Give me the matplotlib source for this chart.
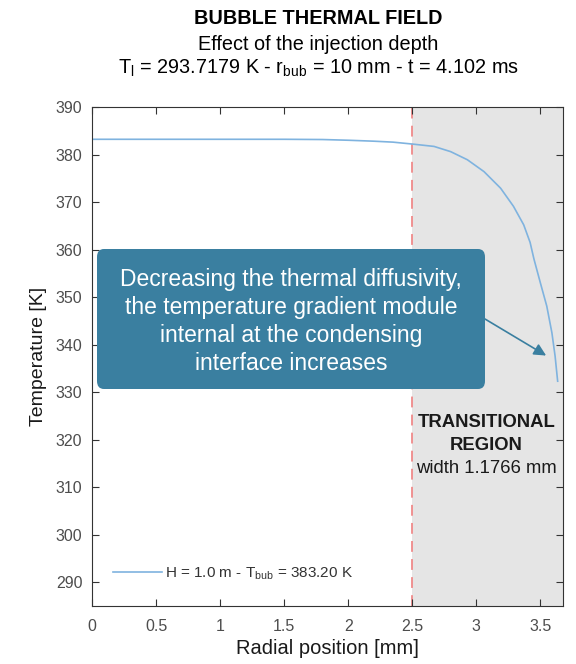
import numpy as np
import matplotlib
matplotlib.use("Agg")
import matplotlib.pyplot as plt
from matplotlib.patches import FancyBboxPatch

plt.rcParams['font.family'] = ['Liberation Sans', 'DejaVu Sans']

# radial temperature profile inside the bubble
r_mm = [0.0, 0.5, 1.0, 1.5, 1.8, 2.0, 2.2, 2.35, 2.5, 2.67, 2.8, 2.93, 3.06,
        3.19, 3.29, 3.37, 3.42, 3.45, 3.5, 3.55, 3.59, 3.615, 3.635]
T_K = [383.2, 383.2, 383.2, 383.2, 383.15, 383.0, 382.8, 382.6, 382.2, 381.7,
       380.6, 378.9, 376.4, 372.9, 369.1, 365.2, 361.5, 358.0, 353.0, 348.1,
       342.5, 337.6, 332.3]

r_start = 2.5          # start of transitional region [mm]
r_width = 1.1766       # width of transitional region [mm]
xticks = [0, 0.5, 1, 1.5, 2, 2.5, 3, 3.5]
yticks = [290, 300, 310, 320, 330, 340, 350, 360, 370, 380, 390]

fig = plt.figure(figsize=(5.76, 6.64), dpi=100)
ax = fig.add_axes([0.1597, 0.0873, 0.8177, 0.7516])

ax.axvspan(r_start, r_start + r_width, color='#e5e5e5', zorder=0, lw=0)
ax.axvline(r_start, color='#f08a8a', ls=(0, (6, 4)), lw=1.3, zorder=1)
ax.plot(r_mm, T_K, color='#7fb3df', lw=1.2, zorder=2,
        label=r'H = 1.0 m - T$_{\mathregular{bub}}$ = 383.20 K')

ax.set_xlim(0, r_start + r_width)
ax.set_ylim(285, 390)
ax.set_xticks(xticks)
ax.set_xticklabels([f'{v:g}' for v in xticks])
ax.set_yticks(yticks)
ax.tick_params(direction='in', top=True, right=True, length=5, width=0.8,
               color='#333333', labelsize=11.5, labelcolor='#4d4d4d')
ax.tick_params(axis='x', pad=9)
ax.tick_params(axis='y', pad=7)
for s in ax.spines.values():
    s.set_color('#333333')
    s.set_linewidth(0.8)

ax.set_xlabel('Radial position [mm]', fontsize=14.5, color='#1a1a1a', labelpad=4)
ax.set_ylabel('Temperature [K]', fontsize=14, color='#1a1a1a', labelpad=6)

leg = ax.legend(loc='lower left', bbox_to_anchor=(0.015, 0.02), frameon=False,
                fontsize=11, handlelength=3.2, handletextpad=0.2)
for t in leg.get_texts():
    t.set_color('#333333')

xc = r_start + r_width / 2 - 0.01
ax.text(xc, 323.6, 'TRANSITIONAL', ha='center', va='center', fontsize=13.3,
        fontweight='bold', color='#1a1a1a')
ax.text(xc, 318.8, 'REGION', ha='center', va='center', fontsize=13.3,
        fontweight='bold', color='#1a1a1a')
ax.text(xc, 314.0, 'width 1.1766 mm', ha='center', va='center', fontsize=13.3,
        color='#1a1a1a')

# titles
fig.text(0.552, 0.972, 'BUBBLE THERMAL FIELD', ha='center', va='center',
         fontsize=14.3, fontweight='bold')
fig.text(0.552, 0.933, 'Effect of the injection depth', ha='center', va='center',
         fontsize=14.3)
fig.text(0.552, 0.897,
         r'T$_{\mathregular{l}}$ = 293.7179 K - r$_{\mathregular{bub}}$ = 10 mm - t = 4.102 ms',
         ha='center', va='center', fontsize=14.3)

# callout box with arrow
box_col = '#3a7fa0'
bx0, by0, bx1, by1 = 97 / 576, 1 - 389 / 664, 485 / 576, 1 - 249 / 664
box = FancyBboxPatch((bx0, by0), bx1 - bx0, by1 - by0,
                     boxstyle='round,pad=0,rounding_size=0.012',
                     transform=fig.transFigure, facecolor=box_col,
                     edgecolor='none', zorder=5)
fig.patches.append(box)
fig.text((bx0 + bx1) / 2, (by0 + by1) / 2 - 0.004,
         'Decreasing the thermal diffusivity,\nthe temperature gradient module\n'
         'internal at the condensing\ninterface increases',
         ha='center', va='center', fontsize=16.5, color='white',
         linespacing=1.27, zorder=6)
ax.annotate('', xy=(3.545, 337.7), xycoords='data',
            xytext=(bx1, 1 - 319 / 664), textcoords='figure fraction',
            arrowprops=dict(arrowstyle='-|>', color=box_col, lw=1.2,
                            mutation_scale=18, shrinkA=0, shrinkB=0),
            zorder=6)

fig.savefig('out.png', dpi=100)
